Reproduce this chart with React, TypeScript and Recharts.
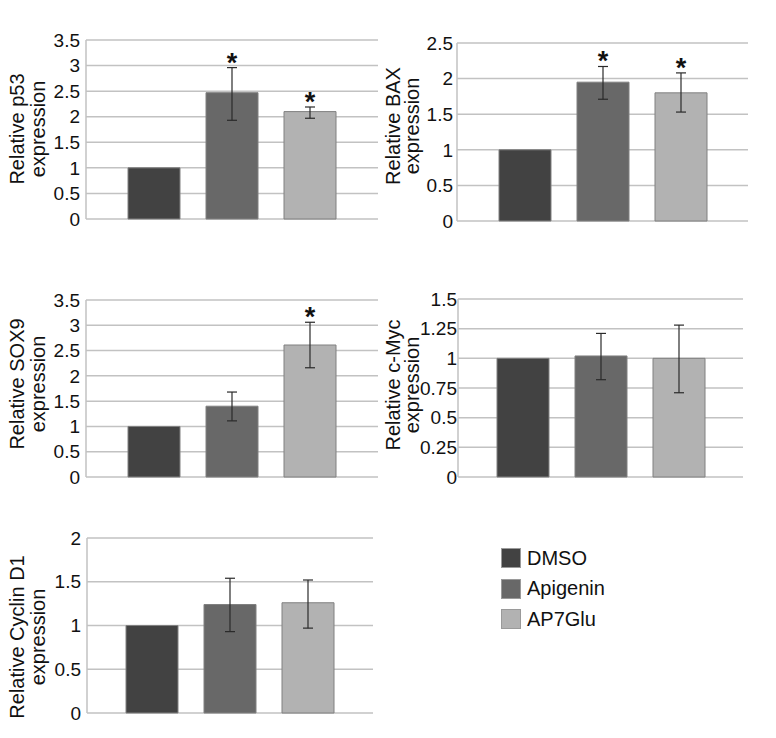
import React from "react";
import { BarChart, Bar, XAxis, YAxis, CartesianGrid, ErrorBar } from "recharts";

// treatment groups (one bar each, same order in every panel)
const groups = ["DMSO", "Apigenin", "AP7Glu"];
const groupColors = ["#424242", "#686868", "#b2b2b2"];

// [low, high] error per group; null = no error bar
type Err = [number, number] | null;

const p53Values = [1, 2.47, 2.1];
const p53Errors: Err[] = [null, [0.54, 0.49], [0.13, 0.09]];
const p53Stars = [false, true, true];
const p53Ticks = [0, 0.5, 1, 1.5, 2, 2.5, 3, 3.5];

const baxValues = [1, 1.95, 1.8];
const baxErrors: Err[] = [null, [0.24, 0.22], [0.27, 0.28]];
const baxStars = [false, true, true];
const baxTicks = [0, 0.5, 1, 1.5, 2, 2.5];

const sox9Values = [1, 1.4, 2.61];
const sox9Errors: Err[] = [null, [0.29, 0.28], [0.45, 0.45]];
const sox9Stars = [false, false, true];
const sox9Ticks = [0, 0.5, 1, 1.5, 2, 2.5, 3, 3.5];

const mycValues = [1, 1.02, 1.0];
const mycErrors: Err[] = [null, [0.2, 0.19], [0.29, 0.28]];
const mycStars = [false, false, false];
const mycTicks = [0, 0.25, 0.5, 0.75, 1, 1.25, 1.5];

const cycValues = [1, 1.24, 1.26];
const cycErrors: Err[] = [null, [0.31, 0.3], [0.29, 0.26]];
const cycStars = [false, false, false];
const cycTicks = [0, 0.5, 1, 1.5, 2];

interface PanelProps {
  left: number;
  top: number;
  x0: number;
  y0: number;
  x1: number;
  y1: number;
  labelLines: [string, string];
  labelX: [number, number];
  labelY: number;
  tickGap: number;
  values: number[];
  errors: Err[];
  stars: boolean[];
  ticks: number[];
}

function Panel(p: PanelProps) {
  const row: Record<string, any> = { name: "expr" };
  groups.forEach((g, i) => {
    row[g] = p.values[i];
    row[g + "_err"] = p.errors[i];
  });
  const width = p.x1 - p.left + 6;
  const height = p.y1 - p.top + 18;
  const max = p.ticks[p.ticks.length - 1];

  const yLabel = () => (
    <g>
      {p.labelLines.map((line, k) => (
        <text
          key={k}
          x={p.labelX[k]}
          y={p.labelY - p.top}
          transform={`rotate(-90 ${p.labelX[k]} ${p.labelY - p.top})`}
          textAnchor="middle"
          fontSize={20}
          fill="#111"
        >
          {line}
        </text>
      ))}
    </g>
  );

  return (
    <div style={{ position: "absolute", left: p.left, top: p.top }}>
      <BarChart
        width={width}
        height={height}
        data={[row]}
        margin={{ top: p.y0 - p.top, right: width - (p.x1 - p.left), bottom: height - (p.y1 - p.top), left: 0 }}
        barSize={52}
        barGap={26}
      >
        <CartesianGrid vertical={false} stroke="#c2c2c2" strokeWidth={1.5} />
        <XAxis dataKey="name" hide />
        <YAxis
          type="number"
          domain={[0, max]}
          ticks={p.ticks}
          interval={0}
          width={p.x0 - p.left}
          tick={{ fill: "#111", fontSize: 19 }}
          tickLine={false}
          tickSize={0}
          tickMargin={p.tickGap}
          axisLine={{ stroke: "#c2c2c2", strokeWidth: 1.5 }}
          label={{ content: yLabel }}
        />
        {groups.map((g, i) => (
          <Bar
            key={g}
            dataKey={g}
            fill={groupColors[i]}
            stroke="#808080"
            strokeWidth={1}
            isAnimationActive={false}
            label={
              p.stars[i]
                ? (lp: any) => {
                    const perUnit = Number(lp.height) / p.values[i];
                    const errTop = Number(lp.y) - (p.errors[i] ? p.errors[i]![1] : 0) * perUnit;
                    return (
                      <text
                        x={Number(lp.x) + Number(lp.width) / 2}
                        y={errTop + 4}
                        textAnchor="middle"
                        fontSize={27}
                        fontWeight="bold"
                        fill="#111"
                      >
                        *
                      </text>
                    );
                  }
                : undefined
            }
          >
            {p.errors[i] && (
              <ErrorBar dataKey={g + "_err"} direction="y" width={5} stroke="#2a2a2a" strokeWidth={1.2} />
            )}
          </Bar>
        ))}
      </BarChart>
    </div>
  );
}

export default function App() {
  return (
    <div
      style={{
        position: "absolute",
        left: 0,
        top: 0,
        width: 776,
        height: 738,
        background: "#fff",
        fontFamily: "'Liberation Sans', Arial, sans-serif",
      }}
    >
      <Panel left={0} top={20} x0={86} y0={40} x1={378} y1={219}
        labelLines={["Relative p53", "expression"]} labelX={[24, 45]} labelY={129} tickGap={6}
        values={p53Values} errors={p53Errors} stars={p53Stars} ticks={p53Ticks} />
      <Panel left={378} top={23} x0={457} y0={43} x1={748} y1={221}
        labelLines={["Relative BAX", "expression"]} labelX={[22, 41]} labelY={126} tickGap={4}
        values={baxValues} errors={baxErrors} stars={baxStars} ticks={baxTicks} />
      <Panel left={0} top={280} x0={86} y0={300} x1={378} y1={477}
        labelLines={["Relative SOX9", "expression"]} labelX={[24, 45]} labelY={384} tickGap={6}
        values={sox9Values} errors={sox9Errors} stars={sox9Stars} ticks={sox9Ticks} />
      <Panel left={378} top={280} x0={458} y0={299} x1={743} y1={477}
        labelLines={["Relative c-Myc", "expression"]} labelX={[22, 41]} labelY={385} tickGap={1}
        values={mycValues} errors={mycErrors} stars={mycStars} ticks={mycTicks} />
      <Panel left={0} top={518} x0={87} y0={538} x1={373} y1={713}
        labelLines={["Relative Cyclin D1", "expression"]} labelX={[24, 45]} labelY={637} tickGap={6}
        values={cycValues} errors={cycErrors} stars={cycStars} ticks={cycTicks} />

      {groups.map((g, i) => (
        <div
          key={g}
          style={{
            position: "absolute",
            left: 501,
            top: 548 + i * 30.5,
            height: 20,
            display: "flex",
            alignItems: "center",
            fontSize: 20,
            color: "#111",
          }}
        >
          <div style={{ width: 20, height: 20, background: groupColors[i], border: "1px solid #9a9a9a", boxSizing: "border-box" }} />
          <span style={{ marginLeft: 6 }}>{g}</span>
        </div>
      ))}
    </div>
  );
}
